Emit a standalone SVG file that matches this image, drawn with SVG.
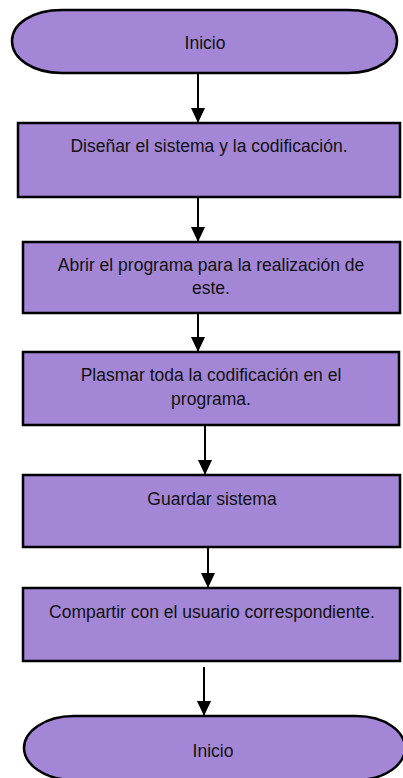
<svg xmlns="http://www.w3.org/2000/svg" width="403" height="778" viewBox="0 0 403 778">
<style>
.box{fill:#a386d6;stroke:#000;stroke-width:2.5}
.term{fill:#a386d6;stroke:#000;stroke-width:2.5}
.lbl{font-family:"Liberation Sans",Arial,sans-serif;font-size:17.5px;fill:#111;text-anchor:middle}
.conn{stroke:#000;stroke-width:2;fill:none}
</style>
<defs>
<marker id="ah" markerUnits="userSpaceOnUse" viewBox="0 -8 16 16" refX="15" refY="0" markerWidth="16" markerHeight="16" orient="auto">
<path d="M0,-7 L15,0 L0,7 Z" fill="#000"/>
</marker>
</defs>
<g id="connectors">
<line class="conn" x1="198" y1="73" x2="198" y2="123" marker-end="url(#ah)"/>
<line class="conn" x1="198" y1="197" x2="198" y2="242" marker-end="url(#ah)"/>
<line class="conn" x1="198" y1="313" x2="198" y2="352" marker-end="url(#ah)"/>
<line class="conn" x1="205" y1="425" x2="205" y2="475" marker-end="url(#ah)"/>
<line class="conn" x1="208" y1="540" x2="208" y2="588" marker-end="url(#ah)"/>
<line class="conn" x1="204" y1="667" x2="204" y2="716" marker-end="url(#ah)"/>
</g>
<g id="start">
<path class="term" d="M62,10 H348 C378,10 397,24 397,41 C397,58 378,73 348,73 H62 C32,73 12,58 12,41 C12,24 32,10 62,10 Z"/>
<text class="lbl" x="205" y="49">Inicio</text>
</g>
<g id="step1">
<rect class="box" x="18" y="123" width="382" height="74"/>
<text class="lbl" x="209" y="152">Diseñar el sistema y la codificación.</text>
</g>
<g id="step2">
<rect class="box" x="23" y="242" width="377" height="71"/>
<text class="lbl" x="211" y="271">Abrir el programa para la realización de</text>
<text class="lbl" x="211" y="294">este.</text>
</g>
<g id="step3">
<rect class="box" x="23" y="352" width="376" height="73"/>
<text class="lbl" x="211" y="381">Plasmar toda la codificación en el</text>
<text class="lbl" x="211" y="405">programa.</text>
</g>
<g id="step4">
<rect class="box" x="23" y="475" width="377" height="72"/>
<text class="lbl" x="212" y="505">Guardar sistema</text>
</g>
<g id="step5">
<rect class="box" x="23" y="588" width="377" height="73"/>
<text class="lbl" x="212" y="618">Compartir con el usuario correspondiente.</text>
</g>
<g id="end">
<path class="term" d="M74,716 H356 C386,716 405,732 405,748 C405,764 386,780 356,780 H74 C44,780 24,764 24,748 C24,732 44,716 74,716 Z"/>
<text class="lbl" x="213" y="757">Inicio</text>
</g>
</svg>
